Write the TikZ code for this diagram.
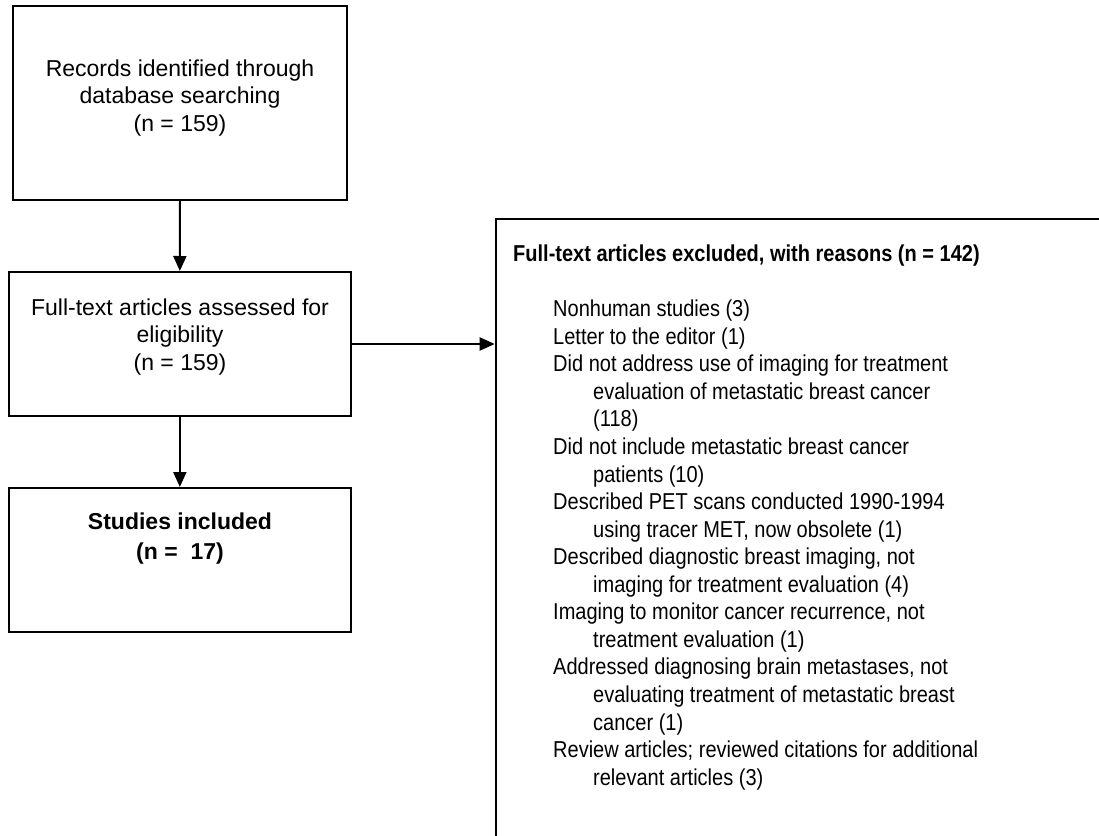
\documentclass[tikz,border=0pt]{standalone}
\usepackage{fontspec}
\setmainfont{Liberation Sans}
\newfontfamily\narrowfont[FakeStretch=0.87]{Liberation Sans}
\usetikzlibrary{arrows.meta}
\tikzset{
  boxstyle/.style={draw=black, line width=2pt, rectangle, inner sep=0pt},
  txt/.style={inner sep=0pt, align=center, font=\fontsize{23}{27.5}\selectfont},
  btxt/.style={inner sep=0pt, align=center, font=\fontsize{23}{30}\selectfont\bfseries},
  ltxt/.style={inner sep=0pt, align=left, font=\narrowfont\fontsize{23}{27.56}\selectfont},
  arr/.style={line width=2pt, -{Triangle[length=15pt,width=13pt]}}
}
\begin{document}
\begin{tikzpicture}[x=1pt,y=-1pt]
\path[use as bounding box, clip] (0,0) rectangle (1099,835);
\fill[white] (0,0) rectangle (1099,835);
% boxes
\node[boxstyle, minimum width=334pt, minimum height=194.3pt] (b1) at (180,102.85) {};
\node[boxstyle, minimum width=342.3pt, minimum height=144pt] (b2) at (179.85,344) {};
\node[boxstyle, minimum width=342.3pt, minimum height=144pt] (b3) at (179.85,560) {};
\node[boxstyle, minimum width=624.3pt, minimum height=641pt] (excl) at (807.85,539.5) {};
% texts
\node[txt, anchor=north] (t1) at (180,59.3) {Records identified through\\database searching\\(n = 159)};
\node[txt, anchor=north] (t2) at (180,298.3) {Full-text articles assessed for\\eligibility\\(n = 159)};
\node[btxt, anchor=north] (t3) at (180,512.6) {Studies included\\(n =\ \ 17)};
\node[ltxt, anchor=base west, font=\narrowfont\bfseries\fontsize{23}{27.5}\selectfont] (tt) at (513,261.5) {Full-text articles excluded, with reasons (n = 142)};
\node[ltxt, anchor=north west] (tl) at (553,299.8) {%
Nonhuman studies (3)\\
Letter to the editor (1)\\
Did not address use of imaging for treatment\\
\hspace*{40pt}evaluation of metastatic breast cancer\\
\hspace*{40pt}(118)\\
Did not include metastatic breast cancer\\
\hspace*{40pt}patients (10)\\
Described PET scans conducted 1990-1994\\
\hspace*{40pt}using tracer MET, now obsolete (1)\\
Described diagnostic breast imaging, not\\
\hspace*{40pt}imaging for treatment evaluation (4)\\
Imaging to monitor cancer recurrence, not\\
\hspace*{40pt}treatment evaluation (1)\\
Addressed diagnosing brain metastases, not\\
\hspace*{40pt}evaluating treatment of metastatic breast\\
\hspace*{40pt}cancer (1)\\
Review articles; reviewed citations for additional\\
\hspace*{40pt}relevant articles (3)};
% connectors
\draw[arr] (b1.south) -- (b2.north);
\draw[arr] (b2.south) -- (b3.north);
\draw[arr] (b2.east) -- (b2.east -| excl.west);
\end{tikzpicture}
\end{document}
